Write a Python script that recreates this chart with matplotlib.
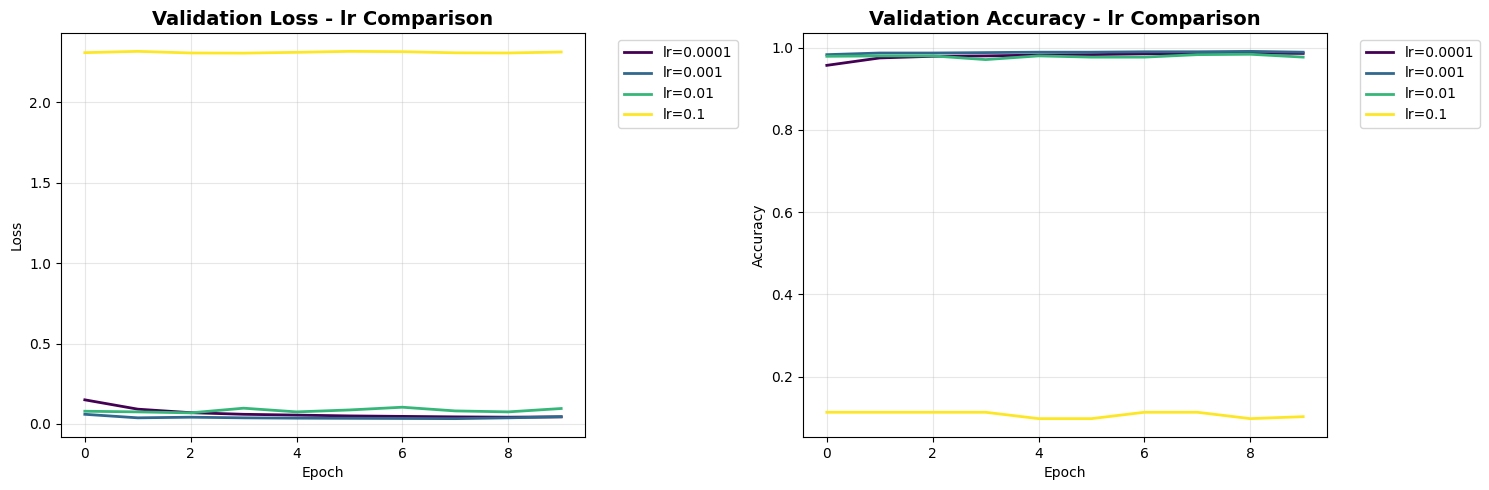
import numpy as np
import matplotlib
matplotlib.use('Agg')
import matplotlib.pyplot as plt

epochs = list(range(10))
lr_labels = ['lr=0.0001', 'lr=0.001', 'lr=0.01', 'lr=0.1']

# validation loss per learning rate
loss_0001 = [0.150, 0.092, 0.070, 0.060, 0.055, 0.050, 0.047, 0.044, 0.042, 0.044]
loss_001 = [0.060, 0.038, 0.042, 0.038, 0.036, 0.035, 0.034, 0.033, 0.038, 0.045]
loss_01 = [0.079, 0.075, 0.069, 0.098, 0.075, 0.087, 0.104, 0.081, 0.075, 0.096]
loss_1 = [2.310, 2.318, 2.308, 2.307, 2.312, 2.318, 2.316, 2.309, 2.308, 2.314]

# validation accuracy per learning rate
acc_0001 = [0.957, 0.975, 0.979, 0.980, 0.982, 0.983, 0.985, 0.986, 0.987, 0.986]
acc_001 = [0.983, 0.987, 0.987, 0.988, 0.989, 0.989, 0.990, 0.990, 0.991, 0.989]
acc_01 = [0.979, 0.980, 0.980, 0.971, 0.980, 0.977, 0.977, 0.983, 0.984, 0.977]
acc_1 = [0.1135, 0.1135, 0.1135, 0.1135, 0.098, 0.098, 0.1135, 0.1135, 0.098, 0.1028]

losses = [loss_0001, loss_001, loss_01, loss_1]
accs = [acc_0001, acc_001, acc_01, acc_1]
colors = plt.cm.viridis(np.linspace(0, 1, len(lr_labels)))

fig, (ax1, ax2) = plt.subplots(1, 2, figsize=(14.89, 4.9), dpi=100)

for vals, lab, c in zip(losses, lr_labels, colors):
    ax1.plot(epochs, vals, label=lab, color=c, linewidth=2)
ax1.set_title('Validation Loss - lr Comparison', fontsize=14, fontweight='bold')
ax1.set_xlabel('Epoch')
ax1.set_ylabel('Loss')
ax1.legend(bbox_to_anchor=(1.05, 1), loc='upper left')
ax1.grid(True, alpha=0.3)

for vals, lab, c in zip(accs, lr_labels, colors):
    ax2.plot(epochs, vals, label=lab, color=c, linewidth=2)
ax2.set_title('Validation Accuracy - lr Comparison', fontsize=14, fontweight='bold')
ax2.set_xlabel('Epoch')
ax2.set_ylabel('Accuracy')
ax2.legend(bbox_to_anchor=(1.05, 1), loc='upper left')
ax2.grid(True, alpha=0.3)

# match the reference panel placement
fig.subplots_adjust(left=61/1489, right=1327/1489, bottom=53/490, top=1-33/490,
                    wspace=218/524)
fig.savefig('out.png', dpi=100)
